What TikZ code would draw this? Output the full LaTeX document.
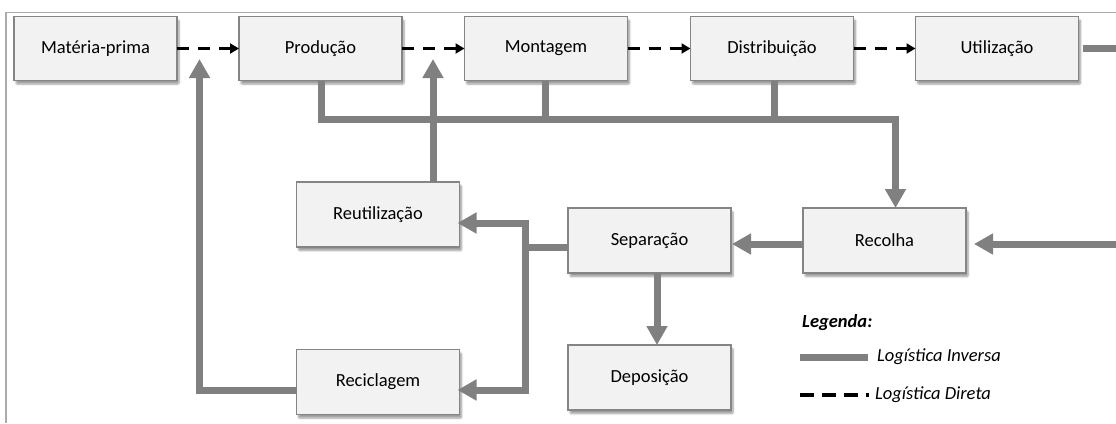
\documentclass[tikz,border=0pt]{standalone}
\usepackage{fontspec}
\setmainfont{Carlito}
\usetikzlibrary{arrows.meta,shadows.blur}

\definecolor{boxfill}{HTML}{F2F2F2}
\definecolor{boxline}{HTML}{858585}
\definecolor{invcol}{HTML}{808080}
\definecolor{framecol}{HTML}{ABABAB}

\tikzset{
  stage/.style={draw=boxline, line width=1.3pt, fill=boxfill,
    minimum width=163pt, minimum height=64pt, inner sep=0pt, outer sep=0pt,
    font=\fontsize{18.5}{22}\selectfont,
    blur shadow={shadow xshift=2pt, shadow yshift=-3.5pt, shadow blur steps=6,
      shadow blur extra rounding=1pt, shadow opacity=40}},
  inverse/.style={draw=invcol, line width=7pt, line join=miter},
  invtip/.style={-{Triangle[length=19pt,width=20pt]}},
  direct/.style={draw=black, line width=3.4pt, dash pattern=on 12pt off 9pt,
    -{Triangle[length=9pt,width=10pt]}},
  legtext/.style={anchor=west, inner sep=0pt, font=\fontsize{18.5}{22}\selectfont\itshape}
}

\begin{document}
\begin{tikzpicture}[x=1pt,y=-1pt]
\useasboundingbox (0,0) rectangle (1116,423);

% outer frame
\draw[framecol, line width=1.6pt] (1116,12.5) -- (6,12.5) -- (6,423);

% forward chain
\node[stage] (mp)   at (95.5,48.5)  {Matéria-prima};
\node[stage] (prod) at (320.5,48.5) {Produção};
\node[stage] (mont) at (546,48.5)   {Montagem};
\node[stage] (dist) at (772,48.5)   {Distribuição};
\node[stage] (util) at (997,48.5)   {Utilização};

% reverse chain
\node[stage, minimum height=65pt] (reut)  at (378,214.5)   {Reutilização};
\node[stage, minimum height=65pt] (recic) at (378,382)     {Reciclagem};
\node[stage, minimum height=65pt] (sep)   at (649.5,240.5) {Separação};
\node[stage, minimum height=65pt] (depo)  at (649.5,377.5) {Deposição};
\node[stage, minimum height=65pt] (recol) at (884.5,240.5) {Recolha};

% direct logistics
\draw[direct] (mp.east)   -- (prod.west);
\draw[direct] (prod.east) -- (mont.west);
\draw[direct] (mont.east) -- (dist.west);
\draw[direct] (dist.east) -- (util.west);

% junction points of the reverse flow
\coordinate (bus) at (895.5,119);
\coordinate (uout) at (1116,48.5);
\coordinate (rin)  at (1116,244);
\coordinate (j1) at (525,223);
\coordinate (j2) at (525,390);
\coordinate (tipA) at (199.5,59);
\coordinate (tipB) at (433,59);

% collection bus from production, assembly and distribution
\draw[inverse, invtip] (prod.south -| 321,0) -- (321,119) -- (bus) -- (recol.north -| bus);
\draw[inverse] (mont.south -| 545,0) -- (545,119);
\draw[inverse] (dist.south -| 774,0) -- (774,119);

% end of life
\draw[inverse, shorten <=4pt] (util.east) -- (uout);
\draw[inverse, invtip, shorten >=8pt] (rin) -- (recol.east |- rin);

% collection to sorting
\draw[inverse, invtip, shorten >=1pt] (recol.west |- 0,244) -- (sep.east |- 0,244);

% sorting outputs
\draw[inverse] (sep.west |- 0,247) -- (j1 |- 0,247);
\draw[inverse, {Triangle[length=19pt,width=20pt]}-{Triangle[length=19pt,width=20pt]},
  shorten <=-2pt, shorten >=-2pt] (reut.east |- j1) -- (j1) -- (j2) -- (recic.east |- j2);
\draw[inverse, invtip] (sep.south -| 657,0) -- (depo.north -| 657,0);

% return flows to production and assembly
\draw[inverse, invtip] (recic.west |- j2) -- (tipA |- j2) -- (tipA);
\draw[inverse, invtip] (reut.north -| tipB) -- (tipB);

% legend
\node[legtext, font=\fontsize{18.5}{22}\selectfont\bfseries\itshape] (leg) at (802,323) {Legenda:};
\coordinate (l1a) at (800,357);
\coordinate (l1b) at (868,357);
\draw[inverse] (l1a) -- (l1b);
\node[legtext] (linv) at (877,357) {Logística Inversa};
\coordinate (l2a) at (800,395);
\coordinate (l2b) at (869,395);
\draw[black, line width=3.4pt, dash pattern=on 14pt off 8pt] (l2a) -- (l2b);
\node[legtext] (ldir) at (875,395) {Logística Direta};
\end{tikzpicture}
\end{document}
